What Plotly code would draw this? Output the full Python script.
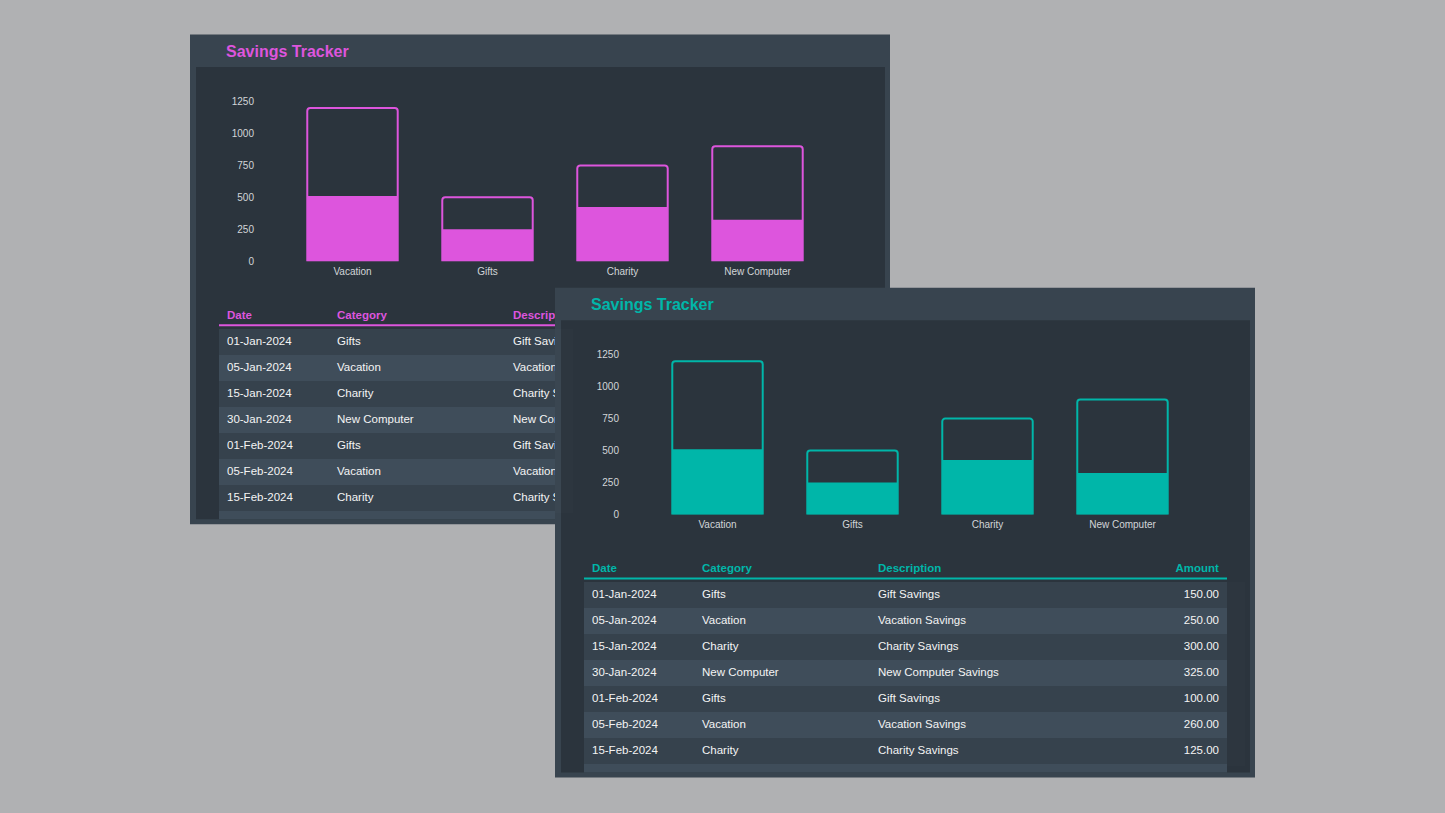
import plotly.graph_objects as go

# ---------------- data ----------------
goal_categories = ["Vacation", "Gifts", "Charity", "New Computer"]
goal_targets = [1200, 500, 750, 900]

table_headers = ["Date", "Category", "Description", "Amount"]
dates = ["01-Jan-2024", "05-Jan-2024", "15-Jan-2024", "30-Jan-2024",
         "01-Feb-2024", "05-Feb-2024", "15-Feb-2024"]
tx_categories = ["Gifts", "Vacation", "Charity", "New Computer",
                 "Gifts", "Vacation", "Charity"]
descriptions = ["Gift Savings", "Vacation Savings", "Charity Savings",
                "New Computer Savings", "Gift Savings", "Vacation Savings",
                "Charity Savings"]
amounts = [150, 250, 300, 325, 100, 260, 125]

y_ticks = [0, 250, 500, 750, 1000, 1250]
panel_title = "Savings Tracker"

# saved amount per goal = sum of its transactions
saved = [sum(a for c, a in zip(tx_categories, amounts) if c == g) for g in goal_categories]

# ---------------- style ----------------
W, H = 1445, 813
BG = "#b0b1b3"
HEADER = "#38444f"
BODY = "#2b343d"
ROW_A = "#36424d"
ROW_B = "#3f4d5a"
TICK = "#d2d5d8"
TEXT = "#f4f4f4"
MAGENTA = "#dd55dd"
TEAL = "#00b6a9"
FONT = "Liberation Sans, Arial, sans-serif"


def fx(x):
    return x / W


def fy(y):
    return 1 - y / H


fig = go.Figure()
shapes = []
annotations = []

panels = [
    dict(ox=190, oy=29, accent=MAGENTA, clip_right=555, n=1),
    dict(ox=555, oy=286, accent=TEAL, clip_right=None, n=2),
]

TL, TR = 29, 672  # table left / right inside a panel

for p in panels:
    ox, oy, accent, n = p["ox"], p["oy"], p["accent"], p["n"]
    # panel frame / header
    shapes.append(dict(type="rect", xref="paper", yref="paper", layer="below",
                       x0=fx(ox), x1=fx(ox + 700), y0=fy(oy + 497), y1=fy(oy),
                       fillcolor=HEADER, line=dict(width=0)))
    # body
    shapes.append(dict(type="rect", xref="paper", yref="paper", layer="below",
                       x0=fx(ox + 6), x1=fx(ox + 695), y0=fy(oy + 492), y1=fy(oy + 33),
                       fillcolor=BODY, line=dict(width=0)))
    # header underline of the table
    shapes.append(dict(type="rect", xref="paper", yref="paper", layer="below",
                       x0=fx(ox + TL), x1=fx(ox + TR), y0=fy(oy + 296), y1=fy(oy + 294),
                       fillcolor=accent, line=dict(width=0)))
    # partially visible next row
    shapes.append(dict(type="rect", xref="paper", yref="paper", layer="below",
                       x0=fx(ox + TL), x1=fx(ox + TR), y0=fy(oy + 492), y1=fy(oy + 478),
                       fillcolor=ROW_B, line=dict(width=0)))
    # title
    annotations.append(dict(xref="paper", yref="paper", x=fx(ox + 34), y=fy(oy + 17),
                            xanchor="left", yanchor="middle", showarrow=False,
                            text="<b>%s</b>" % panel_title,
                            font=dict(family=FONT, size=16, color=accent)))

    xa = "x" if n == 1 else "x%d" % n
    ya = "y" if n == 1 else "y%d" % n
    fig.add_trace(go.Bar(x=goal_categories, y=goal_targets, width=0.67,
                         marker=dict(color="rgba(0,0,0,0)", line=dict(color=accent, width=2),
                                     cornerradius=3),
                         cliponaxis=False, xaxis=xa, yaxis=ya, hoverinfo="skip",
                         showlegend=False))
    fig.add_trace(go.Bar(x=goal_categories, y=saved, width=0.67,
                         marker=dict(color=accent, line=dict(width=0)),
                         cliponaxis=False, xaxis=xa, yaxis=ya, hoverinfo="skip",
                         showlegend=False))

    xkey = "xaxis" if n == 1 else "xaxis%d" % n
    ykey = "yaxis" if n == 1 else "yaxis%d" % n
    fig.update_layout(**{
        xkey: dict(domain=[fx(ox + 95), fx(ox + 635)], anchor=ya, type="category",
                   range=[-0.5, 3.5], showgrid=False, zeroline=False, showline=False,
                   ticks="", ticklabelstandoff=3,
                   tickfont=dict(family=FONT, size=10, color=TICK),
                   fixedrange=True),
        ykey: dict(domain=[fy(oy + 230), fy(oy + 68)], anchor=xa, range=[0, 1250],
                   tickvals=y_ticks, showgrid=False, zeroline=False, showline=False,
                   ticks="", ticklabelstandoff=30,
                   tickfont=dict(family=FONT, size=10, color=TICK), fixedrange=True),
    })

    # table
    nrows = len(dates)
    row_colors = [ROW_A if i % 2 == 0 else ROW_B for i in range(nrows)]
    if p["clip_right"] is not None:
        # this panel is partly hidden by the front panel: only its visible part is drawn
        right = p["clip_right"]
        cols = [dates, tx_categories, [d.replace(" ", "\u00a0") for d in descriptions]]
        hdr = table_headers[:3]
        widths = [110, 176, right - (ox + TL) - 286]
        aligns = ["left", "left", "left"]
        fmts = ["", "", ""]
    else:
        right = ox + TR
        cols = [dates, tx_categories, descriptions, amounts]
        hdr = table_headers
        widths = [110, 176, 176, TR - TL - 462]
        aligns = ["left", "left", "left", "right"]
        fmts = ["", "", "", ".2f"]
    fig.add_trace(go.Table(
        domain=dict(x=[fx(ox + TL), fx(right)], y=[fy(oy + 487), fy(oy + 270)]),
        columnwidth=widths,
        header=dict(values=["<b>%s</b>" % h for h in hdr], height=26,
                    align=aligns, fill=dict(color="rgba(0,0,0,0)"),
                    line=dict(width=0, color="rgba(0,0,0,0)"),
                    font=dict(family=FONT, size=11.5, color=accent)),
        cells=dict(values=cols, height=26, align=aligns, format=fmts,
                   fill=dict(color=[row_colors] * len(cols)),
                   line=dict(width=0, color="rgba(0,0,0,0)"),
                   font=dict(family=FONT, size=11.5, color=TEXT)),
    ))

fig.update_layout(
    width=W, height=H, margin=dict(l=0, r=0, t=0, b=0, pad=0),
    paper_bgcolor=BG, plot_bgcolor="rgba(0,0,0,0)",
    barmode="overlay", showlegend=False,
    font=dict(family=FONT),
    shapes=shapes, annotations=annotations,
)

fig.write_html(
    "out.html", config={"displayModeBar": False},
    post_script=("document.documentElement.style.margin='0';"
                 "document.body.style.margin='0';document.body.style.padding='0';"
                 "document.documentElement.style.overflow='hidden';"
                 "document.body.style.overflow='hidden';"))
